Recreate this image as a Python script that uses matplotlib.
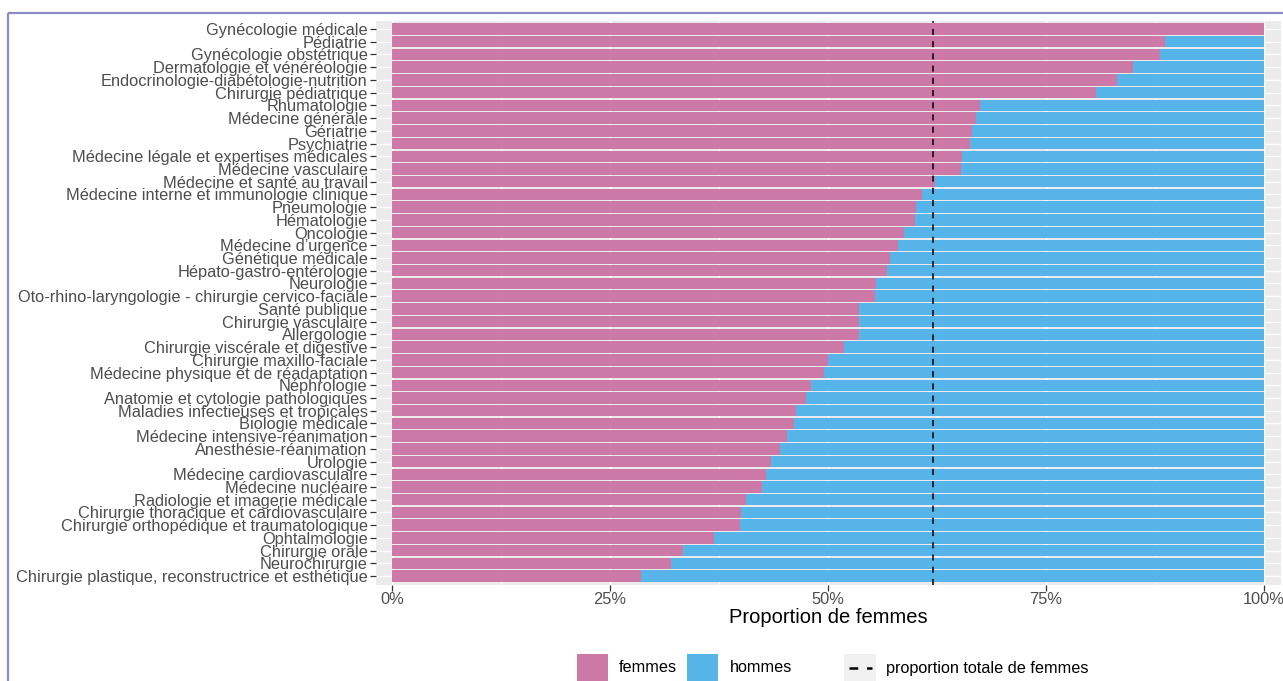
import matplotlib
matplotlib.use("Agg")
import matplotlib.pyplot as plt
from matplotlib.patches import Rectangle
from matplotlib.lines import Line2D
import numpy as np

plt.rcParams['font.family'] = ['Liberation Sans', 'DejaVu Sans']

specialites = [
    "Gynécologie médicale", "Pédiatrie", "Gynécologie obstétrique",
    "Dermatologie et vénéréologie", "Endocrinologie-diabétologie-nutrition",
    "Chirurgie pédiatrique", "Rhumatologie", "Médecine générale", "Gériatrie",
    "Psychiatrie", "Médecine légale et expertises médicales", "Médecine vasculaire",
    "Médecine et santé au travail", "Médecine interne et immunologie clinique",
    "Pneumologie", "Hématologie", "Oncologie", "Médecine d’urgence",
    "Génétique médicale", "Hépato-gastro-entérologie", "Neurologie",
    "Oto-rhino-laryngologie - chirurgie cervico-faciale", "Santé publique",
    "Chirurgie vasculaire", "Allergologie", "Chirurgie viscérale et digestive",
    "Chirurgie maxillo-faciale", "Médecine physique et de réadaptation",
    "Néphrologie", "Anatomie et cytologie pathologiques",
    "Maladies infectieuses et tropicales", "Biologie médicale",
    "Médecine intensive-réanimation", "Anesthésie-réanimation", "Urologie",
    "Médecine cardiovasculaire", "Médecine nucléaire",
    "Radiologie et imagerie médicale", "Chirurgie thoracique et cardiovasculaire",
    "Chirurgie orthopédique et traumatologique", "Ophtalmologie",
    "Chirurgie orale", "Neurochirurgie",
    "Chirurgie plastique, reconstructrice et esthétique",
]

part_femmes = [
    1.000, 0.887, 0.881, 0.850, 0.831, 0.807, 0.674, 0.670, 0.665, 0.663,
    0.654, 0.652, 0.623, 0.608, 0.601, 0.600, 0.587, 0.580, 0.571, 0.568,
    0.555, 0.554, 0.536, 0.536, 0.536, 0.518, 0.500, 0.495, 0.481, 0.475,
    0.463, 0.461, 0.453, 0.445, 0.435, 0.429, 0.424, 0.406, 0.400, 0.399,
    0.369, 0.334, 0.320, 0.286,
]
part_hommes = [1 - v for v in part_femmes]
proportion_totale = 0.62

legend_labels = ["femmes", "hommes", "proportion totale de femmes"]
tick_vals = [0, 0.25, 0.5, 0.75, 1.0]
tick_labels = ["0%", "25%", "50%", "75%", "100%"]

PINK = "#CC79A7"
BLUE = "#56B4E9"
W, H = 1283, 681

fig = plt.figure(figsize=(W / 100, H / 100), dpi=100)
fig.patch.set_facecolor("white")

# overlay for border (pixel coordinates)
ov = fig.add_axes([0, 0, 1, 1], zorder=0)
ov.set_xlim(0, W)
ov.set_ylim(H, 0)
ov.axis("off")
ov.add_patch(Rectangle((7.5, 12.5), W + 20, H + 20, fill=False,
                       edgecolor="#8C8CC4", linewidth=1.6))

# main panel
left, right, top, bottom = 376, 1281, 21, 585
ax = fig.add_axes([left / W, 1 - bottom / H, (right - left) / W, (bottom - top) / H], zorder=1)
ax.set_facecolor("#EBEBEB")

n = len(specialites)
y = np.arange(n)
ax.barh(y, part_femmes, height=0.9, color=PINK, zorder=2)
ax.barh(y, part_hommes, left=part_femmes, height=0.9, color=BLUE, zorder=2)
ax.axvline(proportion_totale, color="black", linewidth=1.1, linestyle=(0, (4, 4)), zorder=3)

ax.set_xlim(-0.0184, 1.0195)
ax.set_ylim(n - 1 + 0.7, -0.63)
ax.set_xticks(tick_vals)
ax.set_xticklabels(tick_labels)
ax.set_xticks([0.125, 0.375, 0.625, 0.875], minor=True)
ax.set_yticks(y)
ax.set_yticklabels(specialites)
ax.grid(True, which="major", color="white", linewidth=1.0, zorder=0)
ax.grid(True, which="minor", axis="x", color="white", linewidth=0.5, zorder=0)
ax.set_axisbelow(True)
for s in ax.spines.values():
    s.set_visible(False)
ax.tick_params(axis="both", which="major", length=4, width=0.9, color="#333333",
               labelcolor="#4D4D4D", labelsize=11.8, pad=2)
ax.tick_params(axis="x", which="major", pad=1)
ax.tick_params(axis="both", which="minor", length=0)
ax.set_xlabel("Proportion de femmes", fontsize=14.5, color="black", labelpad=1)

# legend
ov2 = fig.add_axes([0, 0, 1, 1], zorder=2)
ov2.set_xlim(0, W)
ov2.set_ylim(H, 0)
ov2.axis("off")
ky0, ky1 = 654, 684
cy = 668
ov2.add_patch(Rectangle((577, ky0), 31, ky1 - ky0, color=PINK, linewidth=0))
ov2.text(619, cy, legend_labels[0], fontsize=11.7, va="center", ha="left", color="black")
ov2.add_patch(Rectangle((687, ky0), 31, ky1 - ky0, color=BLUE, linewidth=0))
ov2.text(730, cy, legend_labels[1], fontsize=11.7, va="center", ha="left", color="black")
ov2.add_patch(Rectangle((844, ky0), 32, ky1 - ky0, color="#F0F0F0", linewidth=0))
ov2.add_line(Line2D([849, 872], [cy, cy], color="black", linewidth=1.8, linestyle=(0, (3.5, 3.5))))
ov2.text(886, cy, legend_labels[2], fontsize=11.7, va="center", ha="left", color="black")

fig.savefig("out.png", dpi=100)
